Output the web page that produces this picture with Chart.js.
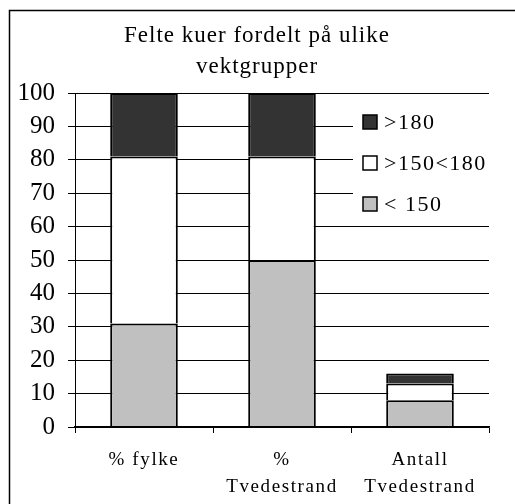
<!DOCTYPE html>
<html>
<head>
<meta charset="utf-8">
<script src="https://cdn.jsdelivr.net/npm/chart.js@4/dist/chart.umd.min.js"></script>
<style>
  html, body { margin: 0; padding: 0; background: #fff; }
  #wrap { width: 515px; height: 504px; }
</style>
</head>
<body>
<div id="wrap"><canvas id="vekt-chart"></canvas></div>
<script>
// weight groups of felled cows
const categories = [["% fylke"], ["%", "Tvedestrand"], ["Antall", "Tvedestrand"]];
const under150 = [31, 50, 8];
const mid150to180 = [50, 31, 5];
const over180 = [19, 19, 3];
const yTicks = [0, 10, 20, 30, 40, 50, 60, 70, 80, 90, 100];
const titleLines = ["Felte kuer fordelt på ulike", "vektgrupper"];

const SERIF = "'Liberation Serif', 'Times New Roman', serif";

// base edge skipped so stacked segments share a single 2px line
const barStyle = {
  borderColor: "#000000",
  borderWidth: 2,
  borderSkipped: "start",
  inflateAmount: 0,
  barPercentage: 0.49,
  categoryPercentage: 1,
};

// title, outer frame and the legend box inside the plot
const decorations = {
  id: "decorations",
  beforeDraw(chart) {
    chart.ctx.letterSpacing = "0px";
  },
  afterDatasetsDraw(chart) {
    // x tick labels are drawn after this (ticks.z = 1), spaced out a little
    chart.ctx.letterSpacing = "1.6px";
  },
  afterDraw(chart) {
    const ctx = chart.ctx;
    ctx.save();
    ctx.letterSpacing = "1px";
    ctx.fillStyle = "#000";
    ctx.font = "23px " + SERIF;
    ctx.textAlign = "center";
    ctx.textBaseline = "middle";
    titleLines.forEach((line, i) => ctx.fillText(line, 257, 36 + i * 31));

    ctx.strokeStyle = "#000";
    ctx.lineWidth = 1.5;
    ctx.strokeRect(9.5, 10.5, 530, 530);

    // legend
    ctx.fillStyle = "#fff";
    ctx.fillRect(353, 100, chart.chartArea.right - 353 + 1, 120);
    const items = chart.data.datasets.slice().reverse();
    ctx.font = "22px " + SERIF;
    ctx.letterSpacing = "1.5px";
    ctx.textAlign = "left";
    items.forEach((ds, i) => {
      const y = 122 + i * 41;
      ctx.fillStyle = ds.backgroundColor;
      ctx.fillRect(363, y - 7, 14, 14);
      ctx.lineWidth = 1.5;
      ctx.strokeRect(363, y - 7, 14, 14);
      ctx.fillStyle = "#000";
      ctx.fillText(ds.label, 384, y + 1);
    });
    ctx.restore();
    ctx.letterSpacing = "0px";
  }
};

const ctx = document.getElementById("vekt-chart").getContext("2d");
new Chart(ctx, {
  type: "bar",
  data: {
    labels: categories,
    datasets: [
      { label: "< 150", data: under150, backgroundColor: "#c0c0c0", ...barStyle },
      { label: ">150<180", data: mid150to180, backgroundColor: "#ffffff", ...barStyle },
      { label: ">180", data: over180, backgroundColor: "#333333", ...barStyle },
    ],
  },
  options: {
    responsive: true,
    maintainAspectRatio: false,
    animation: false,
    layout: { padding: { top: 93, right: 26, left: 0, bottom: 0 } },
    plugins: {
      legend: { display: false },
      title: { display: false },
      tooltip: { enabled: false },
    },
    scales: {
      x: {
        stacked: true,
        afterFit(scale) { scale.height = 77; },
        grid: {
          display: true,
          drawOnChartArea: false,
          drawTicks: true,
          tickLength: 6,
          color: "#000",
          offset: true,
        },
        border: { color: "#000", width: 1.5, z: 1 },
        ticks: {
          z: 1,
          color: "#000",
          padding: 14,
          maxRotation: 0,
          autoSkip: false,
          font: { family: SERIF, size: 19, lineHeight: 1.4 },
        },
      },
      y: {
        stacked: true,
        min: yTicks[0],
        max: yTicks[yTicks.length - 1],
        afterFit(scale) { scale.width = 75; },
        afterBuildTicks(scale) { scale.ticks = yTicks.map((v) => ({ value: v })); },
        grid: { color: "#000", lineWidth: 1, tickLength: 7 },
        border: { color: "#000", width: 1 },
        ticks: {
          color: "#000",
          padding: 13,
          font: { family: SERIF, size: 25 },
        },
      },
    },
  },
  plugins: [decorations],
});
</script>
</body>
</html>
